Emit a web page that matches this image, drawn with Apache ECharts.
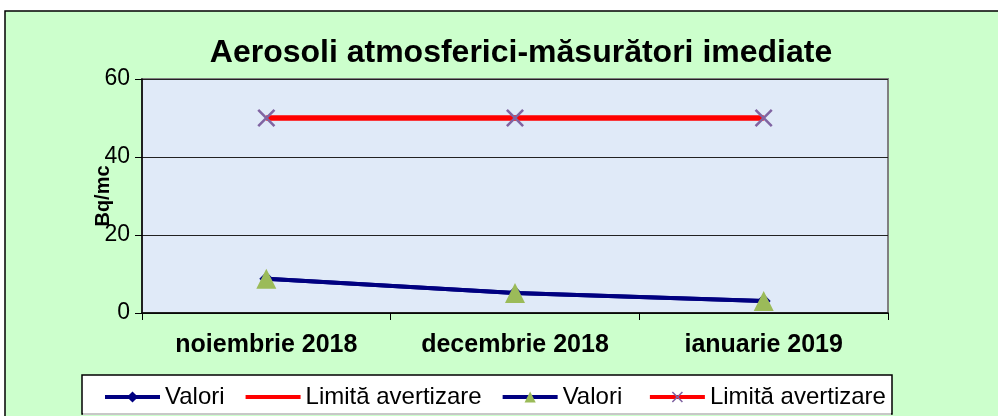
<!DOCTYPE html>
<html>
<head>
<meta charset="utf-8">
<script src="https://cdn.jsdelivr.net/npm/echarts@6/dist/echarts.min.js"></script>
<style>
  html, body { margin: 0; padding: 0; background: #fff; }
  #chart { width: 998px; height: 416px; }
</style>
</head>
<body>
<div id="chart"></div>
<script>
// data
const categories = ["noiembrie 2018", "decembrie 2018", "ianuarie 2019"];
const valori = [8.8, 5.1, 3.1];
const limita = [50, 50, 50];
const yMin = 0, yMax = 60, yStep = 20;

const font = "Liberation Sans, Arial, sans-serif";
const xMark = "path://M0,1L1,0L5,4L9,0L10,1L6,5L10,9L9,10L5,6L1,10L0,9L4,5Z";

const chart = echarts.init(document.getElementById("chart"), null, { renderer: "canvas" });

chart.setOption({
    backgroundColor: "#fff",
    animation: false,
    textStyle: { fontFamily: font },
    graphic: [
        // outer chart area
        { type: "rect", z: -10, shape: { x: 5, y: 11, width: 1010, height: 420 },
          style: { fill: "#ccffcc", stroke: "#000", lineWidth: 1.5 } },
        // legend frame
        { type: "rect", z: -5, shape: { x: 82, y: 375, width: 810, height: 39 },
          style: { fill: "#fff", stroke: "#000", lineWidth: 1.5 } },
        { type: "line", z: -4, shape: { x1: 83, y1: 414, x2: 891, y2: 414 },
          style: { stroke: "#c8c8c8", lineWidth: 2 } }
    ],
    title: {
        text: "Aerosoli atmosferici-măsurători imediate",
        left: 516,
        top: 32,
        textAlign: "center",
        textStyle: { fontSize: 32, fontWeight: "bold", color: "#000", fontFamily: font }
    },
    legend: {
        left: 103,
        top: 385,
        padding: 0,
        itemWidth: 55,
        itemHeight: 14,
        itemGap: 19,
        lineStyle: { width: 4 },
        textStyle: { fontSize: 24, color: "#000", fontFamily: font },
        data: [
            { name: "Valori" },
            { name: "Limită avertizare", itemStyle: { opacity: 0 } },
            { name: "Valori " },
            { name: "Limită avertizare " }
        ]
    },
    grid: {
        left: 142,
        top: 79,
        right: 110,
        bottom: 103,
        show: true,
        backgroundColor: "#e0eaf8",
        borderColor: "#808080",
        borderWidth: 2
    },
    xAxis: {
        type: "category",
        data: categories,
        boundaryGap: true,
        axisLine: { lineStyle: { color: "#000", width: 1.5 } },
        axisTick: { show: true, length: 7, lineStyle: { color: "#000" } },
        axisLabel: { fontSize: 25, fontWeight: "bold", color: "#000", margin: 20, fontFamily: font }
    },
    yAxis: {
        type: "value",
        min: yMin,
        max: yMax,
        interval: yStep,
        name: "Bq/mc",
        nameLocation: "middle",
        nameGap: 29,
        nameMoveOverlap: false,
        nameTextStyle: { fontSize: 20, fontWeight: "bold", color: "#000", fontFamily: font },
        axisLine: { show: true, lineStyle: { color: "#000", width: 1.5 } },
        axisTick: { show: true, length: 7, lineStyle: { color: "#000" } },
        axisLabel: { fontSize: 23, color: "#000", margin: 12, fontFamily: font },
        splitLine: { show: true, lineStyle: { color: "#222", width: 1 } }
    },
    series: [
        {
            name: "Valori",
            type: "line",
            data: valori,
            symbol: "diamond",
            symbolSize: 14,
            lineStyle: { color: "#000080", width: 4 },
            itemStyle: { color: "#000080" },
            z: 2
        },
        {
            name: "Limită avertizare",
            type: "line",
            data: limita,
            symbol: "none",
            lineStyle: { color: "#ff0000", width: 5 },
            itemStyle: { color: "#ff0000" },
            z: 2
        },
        {
            name: "Valori ",
            type: "line",
            data: valori,
            symbol: "triangle",
            symbolSize: 20,
            lineStyle: { color: "#000080", width: 4 },
            itemStyle: { color: "#9bbb59" },
            z: 3
        },
        {
            name: "Limită avertizare ",
            type: "line",
            data: limita,
            symbol: xMark,
            symbolSize: 18,
            lineStyle: { color: "#ff0000", width: 5 },
            itemStyle: { color: "#8064a2" },
            z: 3
        }
    ]
});
</script>
</body>
</html>
